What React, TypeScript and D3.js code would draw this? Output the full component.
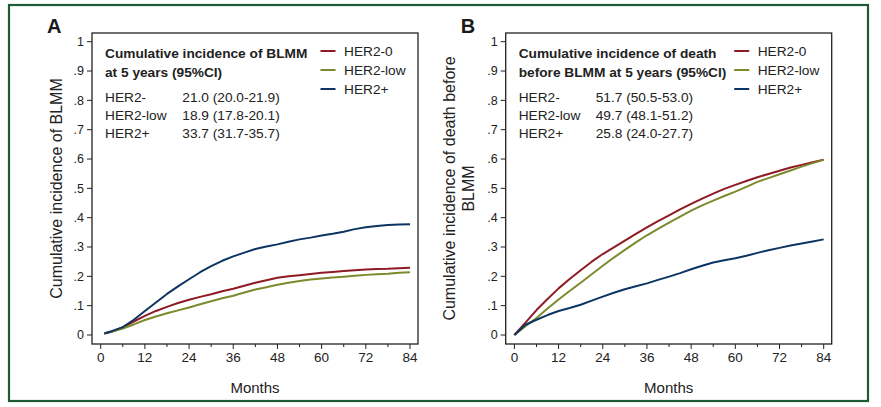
import React from "react";
import * as d3 from "d3";

// ---- Data ----
const monthsA = [1, 3, 6, 9, 12, 15, 18, 21, 24, 27, 30, 33, 36, 39, 42, 45, 48, 51, 54, 57, 60, 63, 66, 69, 72, 75, 78, 81, 84];
const aHer2Zero = [0.005, 0.012, 0.026, 0.046, 0.065, 0.082, 0.096, 0.109, 0.12, 0.13, 0.139, 0.149, 0.158, 0.168, 0.178, 0.187, 0.195, 0.2, 0.204, 0.208, 0.212, 0.215, 0.218, 0.221, 0.223, 0.225, 0.226, 0.228, 0.229];
const aHer2Low = [0.005, 0.011, 0.022, 0.036, 0.051, 0.063, 0.074, 0.084, 0.094, 0.105, 0.115, 0.125, 0.134, 0.145, 0.155, 0.163, 0.171, 0.178, 0.184, 0.189, 0.193, 0.196, 0.199, 0.202, 0.205, 0.207, 0.209, 0.212, 0.214];
const aHer2Pos = [0.005, 0.013, 0.027, 0.052, 0.082, 0.111, 0.14, 0.166, 0.19, 0.214, 0.235, 0.253, 0.268, 0.281, 0.293, 0.302, 0.309, 0.318, 0.326, 0.332, 0.339, 0.345, 0.352, 0.361, 0.367, 0.372, 0.375, 0.377, 0.378];

const monthsB = [0, 3, 6, 9, 12, 15, 18, 21, 24, 27, 30, 33, 36, 39, 42, 45, 48, 51, 54, 57, 60, 63, 66, 69, 72, 75, 78, 81, 84];
const bHer2Zero = [0, 0.042, 0.085, 0.123, 0.159, 0.191, 0.221, 0.25, 0.276, 0.299, 0.322, 0.345, 0.367, 0.388, 0.408, 0.428, 0.447, 0.465, 0.482, 0.498, 0.512, 0.525, 0.538, 0.549, 0.56, 0.571, 0.58, 0.589, 0.598];
const bHer2Low = [0, 0.03, 0.058, 0.09, 0.121, 0.15, 0.178, 0.207, 0.236, 0.264, 0.29, 0.316, 0.34, 0.362, 0.383, 0.404, 0.424, 0.442, 0.458, 0.474, 0.489, 0.505, 0.522, 0.535, 0.548, 0.561, 0.574, 0.586, 0.597];
const bHer2Pos = [0, 0.035, 0.052, 0.068, 0.082, 0.092, 0.103, 0.117, 0.131, 0.144, 0.156, 0.166, 0.176, 0.188, 0.199, 0.211, 0.224, 0.236, 0.247, 0.255, 0.262, 0.27, 0.28, 0.289, 0.297, 0.305, 0.312, 0.319, 0.326];

const seriesNames = ["HER2-0", "HER2-low", "HER2+"];
const seriesColors = ["#8e1b24", "#7c8a2c", "#0d3563"];

const yTicks = [0, 0.1, 0.2, 0.3, 0.4, 0.5, 0.6, 0.7, 0.8, 0.9, 1];
const yTickLabels = ["0", ".1", ".2", ".3", ".4", ".5", ".6", ".7", ".8", ".9", "1"];
const xMajorTicks = [0, 12, 24, 36, 48, 60, 72, 84];
const xMinorTicks = [6, 18, 30, 42, 54, 66, 78];

const tableRowLabels = ["HER2-", "HER2-low", "HER2+"];
const tableA = ["21.0 (20.0-21.9)", "18.9 (17.8-20.1)", "33.7 (31.7-35.7)"];
const tableB = ["51.7 (50.5-53.0)", "49.7 (48.1-51.2)", "25.8 (24.0-27.7)"];
const titleA = ["Cumulative incidence of BLMM", "at 5 years (95%CI)"];
const titleB = ["Cumulative incidence of death", "before BLMM at 5 years (95%CI)"];
const yLabelA = ["Cumulative incidence of BLMM"];
const yLabelB = ["Cumulative incidence of death before", "BLMM"];

const FONT = "'Liberation Sans', Arial, Helvetica, sans-serif";

type PanelProps = {
  offsetX: number;
  letter: string;
  months: number[];
  series: number[][];
  title: string[];
  table: string[];
  yLabel: string[];
  yLabelX: number[];
  valueColX: number;
};

function Panel({ offsetX, letter, months, series, title, table, yLabel, yLabelX, valueColX }: PanelProps) {
  const frame = { left: 92 + offsetX, right: 418 + offsetX, top: 33, bottom: 344 };
  const x = d3.scaleLinear().domain([0, 84]).range([100.7 + offsetX, 410 + offsetX]);
  const y = d3.scaleLinear().domain([0, 1]).range([335, 41.7]);
  const line = d3
    .line<[number, number]>()
    .x((d) => x(d[0]))
    .y((d) => y(d[1]));
  const order = [0, 1, 2];
  const labelX = frame.left + 13;
  const legendLineX = frame.right - 97.5;
  return (
    <g fontFamily={FONT} fill="#222">
      <text x={frame.left - 45} y={33.3} fontSize={20} fontWeight="bold" fill="#1a1a1a">
        {letter}
      </text>
      <rect
        x={frame.left}
        y={frame.top}
        width={frame.right - frame.left}
        height={frame.bottom - frame.top}
        fill="none"
        stroke="#222"
        strokeWidth={1.3}
      />
      {yTicks.map((t, i) => (
        <g key={"y" + i}>
          <line x1={frame.left - 5} x2={frame.left} y1={y(t)} y2={y(t)} stroke="#222" strokeWidth={1} />
          <text x={frame.left - 8} y={y(t) + 4.3} fontSize={12.5} textAnchor="end">
            {yTickLabels[i]}
          </text>
        </g>
      ))}
      {xMajorTicks.map((t) => (
        <g key={"x" + t}>
          <line x1={x(t)} x2={x(t)} y1={frame.bottom} y2={frame.bottom + 5} stroke="#222" strokeWidth={1} />
          <text x={x(t)} y={frame.bottom + 18} fontSize={13.5} textAnchor="middle">
            {t}
          </text>
        </g>
      ))}
      {xMinorTicks.map((t) => (
        <line key={"m" + t} x1={x(t)} x2={x(t)} y1={frame.bottom} y2={frame.bottom + 3} stroke="#222" strokeWidth={1} />
      ))}
      <text x={(frame.left + frame.right) / 2} y={393} fontSize={15} textAnchor="middle">
        Months
      </text>
      {yLabel.map((s, i) => (
        <text
          key={"yl" + i}
          transform={`translate(${yLabelX[i]},188.5) rotate(-90)`}
          fontSize={16}
          textAnchor="middle"
        >
          {s}
        </text>
      ))}
      {order.map((k) => (
        <path
          key={"s" + k}
          d={line(months.map((m, i) => [m, series[k][i]] as [number, number])) || ""}
          fill="none"
          stroke={seriesColors[k]}
          strokeWidth={2}
          strokeLinejoin="round"
        />
      ))}
      {title.map((s, i) => (
        <text key={"t" + i} x={labelX} y={57.5 + i * 19} fontSize={13.7} fontWeight="bold">
          {s}
        </text>
      ))}
      {tableRowLabels.map((s, i) => (
        <g key={"r" + i}>
          <text x={labelX} y={102 + i * 18} fontSize={13.7}>
            {s}
          </text>
          <text x={valueColX} y={102 + i * 18} fontSize={13.7}>
            {table[i]}
          </text>
        </g>
      ))}
      {seriesNames.map((s, i) => (
        <g key={"l" + i}>
          <line
            x1={legendLineX}
            x2={legendLineX + 15}
            y1={51 + i * 19}
            y2={51 + i * 19}
            stroke={seriesColors[i]}
            strokeWidth={2}
          />
          <text x={legendLineX + 23.5} y={56 + i * 19} fontSize={13.7}>
            {s}
          </text>
        </g>
      ))}
    </g>
  );
}

export default function App() {
  const offB = 413.7;
  return (
    <svg
      width={881}
      height={407}
      style={{ position: "absolute", left: 0, top: 0, background: "#fff" }}
    >
      <rect x={0} y={0} width={881} height={407} fill="#fff" />
      <rect x={9} y={5} width={859} height={396} fill="none" stroke="#1f5a36" strokeWidth={2.2} />
      <Panel
        offsetX={0}
        letter="A"
        months={monthsA}
        series={[aHer2Zero, aHer2Low, aHer2Pos]}
        title={titleA}
        table={tableA}
        yLabel={yLabelA}
        yLabelX={[62]}
        valueColX={182.3}
      />
      <Panel
        offsetX={offB}
        letter="B"
        months={monthsB}
        series={[bHer2Zero, bHer2Low, bHer2Pos]}
        title={titleB}
        table={tableB}
        yLabel={yLabelB}
        yLabelX={[454.5, 473.5]}
        valueColX={595.7}
      />
    </svg>
  );
}
